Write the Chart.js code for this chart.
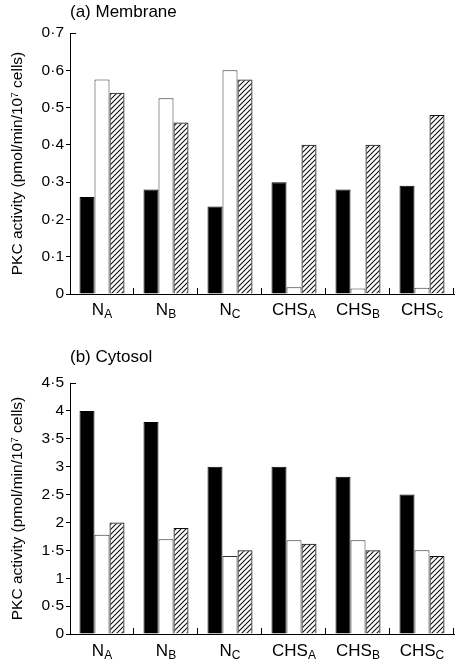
<!DOCTYPE html>
<html>
<head>
<meta charset="utf-8">
<script src="https://cdn.jsdelivr.net/npm/chart.js@4/dist/chart.umd.min.js"></script>
<style>
  body { margin: 0; background: #fff; }
  .box { position: absolute; left: 0; }
</style>
</head>
<body>
<div class="box" style="top:0"><canvas id="membrane" width="456" height="330"></canvas></div>
<div class="box" style="top:330px"><canvas id="cytosol" width="456" height="334"></canvas></div>
<script>
// categories (main text + subscript)
const groups = ['N', 'N', 'N', 'CHS', 'CHS', 'CHS'];
const membraneSubs = ['A', 'B', 'C', 'A', 'B', 'c'];
const cytosolSubs = ['A', 'B', 'C', 'A', 'B', 'C'];

// (a) membrane, pmol/min/10^7 cells
const membraneBlack = [0.26, 0.28, 0.235, 0.30, 0.28, 0.29];
const membraneWhite = [0.575, 0.525, 0.60, 0.018, 0.015, 0.017];
const membraneHatched = [0.54, 0.46, 0.575, 0.40, 0.40, 0.48];
const membraneMax = 0.7, membraneStep = 0.1;

// (b) cytosol
const cytosolBlack = [4.0, 3.8, 3.0, 3.0, 2.82, 2.5];
const cytosolWhite = [1.78, 1.70, 1.40, 1.68, 1.68, 1.50];
const cytosolHatched = [2.0, 1.9, 1.5, 1.62, 1.5, 1.4];
const cytosolMax = 4.5, cytosolStep = 0.5;

const yTitle = 'PKC activity (pmol/min/10\u2077 cells)';
const FONT = '"Liberation Sans", Arial, sans-serif';

Chart.defaults.font.family = FONT;
Chart.defaults.color = '#000';

function hatch() {
  const c = document.createElement('canvas');
  c.width = 5; c.height = 5;
  const g = c.getContext('2d');
  g.strokeStyle = '#111';
  g.lineWidth = 1.1;
  g.beginPath();
  g.moveTo(0, 5); g.lineTo(5, 0);
  g.moveTo(-1, 1); g.lineTo(1, -1);
  g.moveTo(4, 6); g.lineTo(6, 4);
  g.stroke();
  return g.createPattern(c, 'repeat');
}

function fmt(v) {
  const r = Math.round(v * 10) / 10;
  return Number.isInteger(r) ? String(r) : r.toFixed(1).replace('.', '\u00b7');
}

// inward x ticks, top cap, subscripted category labels and panel title
const decor = {
  id: 'decor',
  afterDraw(chart, args, opts) {
    const { ctx, chartArea: a } = chart;
    const n = groups.length;
    const w = (a.right - a.left) / n;
    ctx.save();
    ctx.strokeStyle = '#000';
    ctx.lineWidth = 1;
    ctx.beginPath();
    for (let i = 1; i <= n; i++) {
      const px = Math.round(a.left + i * w) - 0.5;
      ctx.moveTo(px, a.bottom);
      ctx.lineTo(px, a.bottom - 6);
    }
    ctx.moveTo(a.left, a.top + 0.5);
    ctx.lineTo(a.left + 6, a.top + 0.5);
    ctx.stroke();

    ctx.fillStyle = '#000';
    ctx.textBaseline = 'alphabetic';
    ctx.textAlign = 'left';
    for (let i = 0; i < n; i++) {
      const cx = chart.scales.x.getPixelForValue(i);
      ctx.font = '17px ' + FONT;
      const mw = ctx.measureText(groups[i]).width;
      ctx.font = '12px ' + FONT;
      const sw = ctx.measureText(opts.subs[i]).width;
      const x0 = cx - (mw + sw) / 2;
      ctx.font = '17px ' + FONT;
      ctx.fillText(groups[i], x0, a.bottom + opts.labelY);
      ctx.font = '12px ' + FONT;
      ctx.fillText(opts.subs[i], x0 + mw, a.bottom + opts.labelY + 3);
    }

    ctx.font = '17px ' + FONT;
    ctx.fillText(opts.title, a.left, opts.titleY);
    ctx.restore();
  }
};

function makeChart(id, black, white, hatched, subs, max, step, padTop, xHeight, title, titleY, labelY) {
  return new Chart(document.getElementById(id), {
    type: 'bar',
    data: {
      labels: groups.map((g, i) => g + subs[i]),
      datasets: [
        { data: black, backgroundColor: '#000', borderColor: '#000', borderWidth: 1 },
        { data: white, backgroundColor: '#fff', borderColor: '#333', borderWidth: 1 },
        { data: hatched, backgroundColor: hatch(), borderColor: '#111', borderWidth: 1 }
      ]
    },
    options: {
      responsive: false,
      animation: false,
      layout: { padding: { top: padTop, right: 2, left: 0, bottom: 0 } },
      datasets: { bar: { categoryPercentage: 0.703, barPercentage: 1 } },
      plugins: {
        legend: { display: false },
        tooltip: { enabled: false },
        decor: { subs: subs, title: title, titleY: titleY, labelY: labelY }
      },
      scales: {
        x: {
          ticks: { display: false },
          grid: { display: false },
          border: { color: '#000', width: 1 },
          afterFit(scale) { scale.height = xHeight; }
        },
        y: {
          min: 0,
          max: max,
          ticks: {
            stepSize: step,
            padding: 2,
            font: { size: 15.5 },
            callback: v => fmt(v)
          },
          grid: {
            drawOnChartArea: false,
            tickLength: 4,
            tickColor: c => (c.tick && Math.abs(c.tick.value - max) < 1e-9) ? 'rgba(0,0,0,0)' : '#000'
          },
          border: { color: '#000', width: 1 },
          title: {
            display: true,
            text: yTitle,
            font: { size: 15.5 },
            padding: { top: 8, bottom: 0 }
          },
          afterFit(scale) { scale.width = 70; }
        }
      }
    },
    plugins: [decor]
  });
}

makeChart('membrane', membraneBlack, membraneWhite, membraneHatched, membraneSubs,
  membraneMax, membraneStep, 33, 36, '(a) Membrane', 17, 21);
makeChart('cytosol', cytosolBlack, cytosolWhite, cytosolHatched, cytosolSubs,
  cytosolMax, cytosolStep, 53, 30, '(b) Cytosol', 32, 22);
</script>
</body>
</html>
